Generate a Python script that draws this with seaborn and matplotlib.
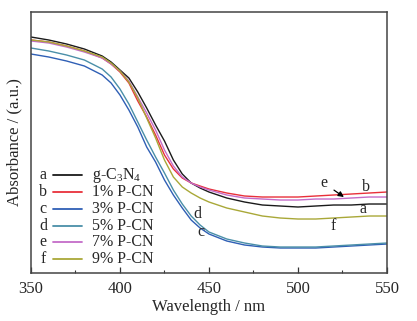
import matplotlib
matplotlib.use("Agg")
import matplotlib.pyplot as plt
from matplotlib.ticker import MultipleLocator
import pandas as pd
import seaborn as sns

# UV-vis diffuse reflectance spectra (arbitrary absorbance units)
wavelength = [350, 360, 370, 380, 390, 395, 400, 405, 410, 415, 420, 425, 430, 435,
              440, 445, 450, 460, 470, 480, 490, 500, 510, 520, 530, 540, 550]

abs_gcn = [2.36, 2.33, 2.29, 2.24, 2.17, 2.11, 2.03, 1.95, 1.81, 1.65, 1.48, 1.32, 1.13, 0.99,
           0.90, 0.85, 0.81, 0.75, 0.71, 0.68, 0.67, 0.66, 0.67, 0.68, 0.68, 0.69, 0.69]
abs_p1 = [2.33, 2.31, 2.27, 2.22, 2.15, 2.09, 2.01, 1.90, 1.72, 1.56, 1.38, 1.18, 1.04, 0.95,
          0.90, 0.87, 0.84, 0.80, 0.77, 0.76, 0.76, 0.76, 0.77, 0.78, 0.79, 0.80, 0.81]
abs_p3 = [2.19, 2.16, 2.12, 2.07, 1.98, 1.90, 1.78, 1.63, 1.46, 1.26, 1.11, 0.93, 0.78, 0.65,
          0.53, 0.45, 0.39, 0.32, 0.28, 0.26, 0.25, 0.25, 0.25, 0.26, 0.27, 0.28, 0.29]
abs_p5 = [2.25, 2.22, 2.18, 2.13, 2.04, 1.96, 1.84, 1.69, 1.51, 1.33, 1.16, 1.00, 0.83, 0.69,
          0.57, 0.48, 0.41, 0.34, 0.30, 0.27, 0.26, 0.26, 0.26, 0.27, 0.28, 0.29, 0.30]
abs_p7 = [2.32, 2.30, 2.26, 2.21, 2.15, 2.09, 2.02, 1.92, 1.76, 1.60, 1.43, 1.23, 1.07, 0.96,
          0.90, 0.86, 0.83, 0.78, 0.75, 0.74, 0.73, 0.73, 0.74, 0.74, 0.75, 0.76, 0.76]
abs_p9 = [2.33, 2.31, 2.27, 2.22, 2.16, 2.10, 2.02, 1.91, 1.75, 1.55, 1.35, 1.13, 0.96, 0.86,
          0.80, 0.75, 0.71, 0.65, 0.61, 0.57, 0.55, 0.54, 0.54, 0.55, 0.56, 0.57, 0.57]

letters = ["a", "b", "c", "d", "e", "f"]
samples = ["g-C$_3$N$_4$", "1% P-CN", "3% P-CN", "5% P-CN", "7% P-CN", "9% P-CN"]
series = [abs_gcn, abs_p1, abs_p3, abs_p5, abs_p7, abs_p9]
colors = ["#1a1a1a", "#e8303a", "#2f5fb5", "#4a8fa8", "#c46cc8", "#a9a838"]

rows = []
for name, vals in zip(samples, series):
    for w, v in zip(wavelength, vals):
        rows.append({"Wavelength": w, "Absorbance": v, "Sample": name})
df = pd.DataFrame(rows)

sns.set_style("white")
plt.rcParams["font.family"] = ["Liberation Serif", "DejaVu Serif"]
plt.rcParams["mathtext.fontset"] = "custom"
plt.rcParams["mathtext.rm"] = "Liberation Serif"
plt.rcParams["mathtext.it"] = "Liberation Serif:italic"

fig = plt.figure(figsize=(4.17, 3.21), dpi=100)
ax = fig.add_axes([0.0743, 0.1495, 0.8537, 0.8131])

sns.lineplot(data=df, x="Wavelength", y="Absorbance", hue="Sample",
             hue_order=samples, palette=colors, linewidth=1.0,
             legend=False, ax=ax)

ax.set_xlim(350, 550)
ax.set_ylim(0, 2.61)
ax.xaxis.set_major_locator(MultipleLocator(50))
ax.xaxis.set_minor_locator(MultipleLocator(25))
ax.tick_params(axis="x", which="major", bottom=True, direction="in", length=4,
               width=0.9, labelsize=12, pad=6, color="#333333")
ax.tick_params(axis="x", which="minor", bottom=True, direction="in", length=2.5,
               width=0.8, color="#333333")
ax.set_yticks([])
for s in ax.spines.values():
    s.set_color("#444444")
    s.set_linewidth(1.1)

ax.set_xlabel("Wavelength / nm", fontsize=12, labelpad=1)
ax.set_ylabel("Absorbance / (a.u.)", fontsize=12, labelpad=6)

# Legend block: letter, line sample, sample name
row_y = [0.375, 0.310, 0.245, 0.180, 0.119, 0.054]
for ltr, name, col, yy in zip(letters, samples, colors, row_y):
    ax.text(0.034, yy, ltr, transform=ax.transAxes, fontsize=11.5,
            ha="center", va="center")
    ax.plot([0.062, 0.143], [yy, yy], transform=ax.transAxes, color=col,
            linewidth=1.3)
    ax.text(0.171, yy, name, transform=ax.transAxes, fontsize=11.5,
            ha="left", va="center")

# Curve labels
lbl_kw = dict(fontsize=11.5, ha="center", va="center")
ax.annotate("e", xy=(525.8, 0.76), xytext=(514.5, 0.90),
            arrowprops=dict(arrowstyle="-|>", color="black", lw=0.9,
                            mutation_scale=8, shrinkA=3, shrinkB=0),
            **lbl_kw)
ax.text(538.0, 0.86, "b", **lbl_kw)
ax.text(536.5, 0.64, "a", **lbl_kw)
ax.text(519.6, 0.47, "f", **lbl_kw)
ax.text(443.5, 0.59, "d", **lbl_kw)
ax.text(445.5, 0.41, "c", **lbl_kw)

fig.savefig("out.png", dpi=100)
